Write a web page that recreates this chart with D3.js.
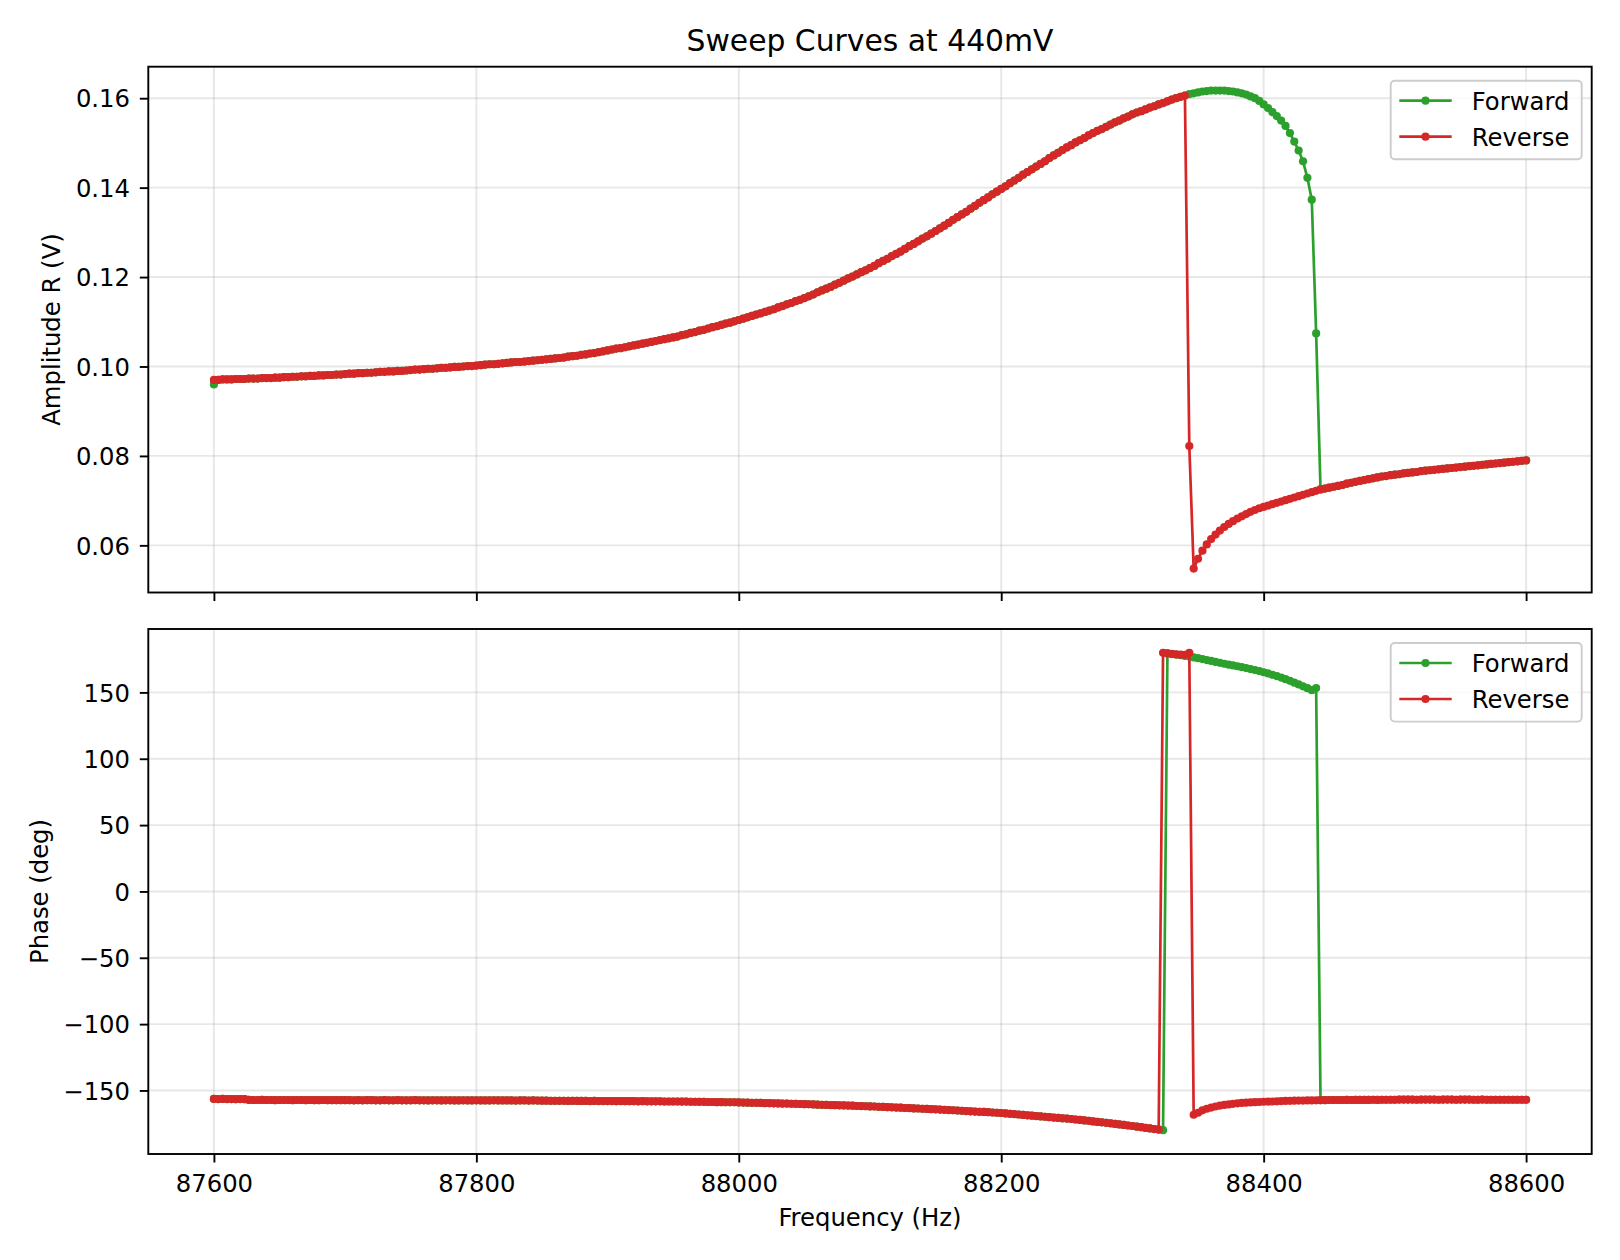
<!DOCTYPE html>
<html>
<head>
<meta charset="utf-8">
<script src="https://cdn.jsdelivr.net/npm/d3@7"></script>
<style>
  body { margin: 0; background: #fff; }
  svg { font-family: "DejaVu Sans", sans-serif; }
</style>
</head>
<body>
<script>
// sweep grid: 301 equally spaced frequencies, 87600 .. 88600 Hz
var freqStart = 87600, freqStop = 88600, freqCount = 301

var freqTicks = [87600, 87800, 88000, 88200, 88400, 88600]
var ampTicks = [0.06, 0.08, 0.10, 0.12, 0.14, 0.16]
var phaseTicks = [-150, -100, -50, 0, 50, 100, 150]

// amplitude, in units of 0.1 mV
// lower branch shared by both sweeps, points 1..222 (88340 Hz)
var ampLowBranch = [
  970, 971, 971, 971, 972, 972, 972, 973, 973, 973, 974, 974, 974, 975,
  975, 976, 976, 977, 977, 978, 978, 979, 979, 980, 980, 981, 981, 982, 982,
  983, 984, 984, 985, 985, 986, 986, 987, 988, 988, 989, 989, 990, 990, 991,
  992, 993, 993, 994, 995, 995, 996, 997, 997, 998, 999, 999, 1000, 1001, 1001,
  1002, 1003, 1004, 1005, 1005, 1006, 1007, 1008, 1009, 1010, 1010, 1011, 1012, 1013, 1014,
  1015, 1016, 1017, 1018, 1019, 1020, 1022, 1023, 1024, 1026, 1027, 1029, 1030, 1032, 1034,
  1036, 1038, 1040, 1041, 1043, 1045, 1047, 1049, 1051, 1053, 1055, 1057, 1059, 1061, 1063,
  1065, 1067, 1070, 1072, 1075, 1077, 1080, 1082, 1085, 1088, 1090, 1093, 1096, 1098, 1101,
  1104, 1107, 1110, 1113, 1116, 1119, 1122, 1125, 1128, 1132, 1135, 1139, 1142, 1146, 1149,
  1153, 1157, 1161, 1166, 1170, 1174, 1178, 1183, 1187, 1192, 1197, 1201, 1206, 1211, 1215,
  1220, 1225, 1231, 1236, 1241, 1247, 1252, 1257, 1263, 1269, 1274, 1280, 1286, 1291, 1297,
  1303, 1309, 1315, 1321, 1328, 1334, 1340, 1346, 1353, 1359, 1366, 1372, 1378, 1385, 1391,
  1397, 1403, 1410, 1416, 1422, 1429, 1435, 1441, 1447, 1453, 1459, 1466, 1472, 1478, 1484,
  1490, 1495, 1501, 1506, 1511, 1517, 1522, 1527, 1531, 1536, 1541, 1546, 1550, 1555, 1559,
  1564, 1568, 1571, 1575, 1579, 1582, 1586, 1589, 1593, 1597, 1600, 1603, 1606
]
// forward sweep stays on the upper branch up to 88440 Hz (points 223..252)
var ampForwardUpper = [
  1609, 1611, 1613, 1615, 1616, 1617, 1617, 1617, 1617, 1616,
  1615, 1613, 1611, 1608, 1604, 1600, 1594, 1586, 1578, 1569,
  1560, 1550, 1538, 1522, 1503, 1483, 1459, 1422, 1373, 1074
]
// reverse sweep drops at 88343 Hz (points 223..252)
var ampReverseDrop = [
  822, 548, 570, 588, 602, 614, 624, 633, 641, 648,
  654, 660, 665, 670, 675, 679, 683, 686, 689, 692,
  695, 698, 701, 704, 707, 710, 713, 716, 719, 722
]
// high frequency branch shared by both sweeps, points 253..300
var ampHighBranch = [
  725, 727, 729, 731, 733, 735, 738, 740, 742, 744, 746, 748, 750, 752, 754, 755,
  757, 758, 759, 761, 762, 763, 764, 766, 767, 768, 769, 770, 771, 772, 773, 774,
  775, 776, 777, 778, 779, 780, 781, 782, 783, 784, 785, 786, 787, 788, 789, 790
]

// phase in degrees
// points 0..216 (88320 Hz), shared
var phaseLowBranch = [
  -156.4, -156.5, -156.4, -156.5, -156.5, -156.6, -156.5, -156.6,
  -157.1, -157.2, -157.2, -157.1, -157.2, -157.2, -157.3, -157.2, -157.2, -157.2, -157.3,
  -157.2, -157.2, -157.3, -157.2, -157.3, -157.3, -157.2, -157.3, -157.3, -157.3, -157.3,
  -157.3, -157.3, -157.4, -157.3, -157.4, -157.3, -157.3, -157.4, -157.4, -157.3,
  -157.4, -157.4, -157.3, -157.4, -157.4, -157.4, -157.3, -157.4, -157.4, -157.5,
  -157.4, -157.4, -157.5, -157.4, -157.4, -157.5, -157.5, -157.4, -157.5, -157.5,
  -157.4, -157.5, -157.5, -157.5, -157.4, -157.5, -157.5, -157.5, -157.5, -157.6,
  -157.5, -157.5, -157.6, -157.5, -157.6,
  -157.7, -157.7, -157.8, -157.8, -157.8, -157.8, -157.9, -157.8, -157.9, -157.9, -157.9, -158.0, -157.9, -158.0, -158.0,
  -158.0, -158.0, -158.1, -158.0, -158.1, -158.1, -158.1, -158.2, -158.1, -158.2, -158.2, -158.2, -158.2, -158.3, -158.3,
  -158.3, -158.3, -158.4, -158.4, -158.5, -158.5, -158.6, -158.6, -158.7, -158.7, -158.8, -158.8, -158.9, -158.9, -158.9,
  -159.0, -159.1, -159.2, -159.3, -159.3, -159.4, -159.5, -159.6, -159.7, -159.8, -159.9, -159.9, -160.0, -160.1, -160.2,
  -160.3, -160.4, -160.5, -160.7, -160.8, -160.9, -161.0, -161.1, -161.2, -161.3, -161.4, -161.5, -161.7, -161.8, -161.9,
  -162.0, -162.1, -162.3, -162.4, -162.6, -162.7, -162.9, -163.0, -163.2, -163.3, -163.5, -163.6, -163.8, -163.9, -164.1,
  -164.2, -164.4, -164.6, -164.8, -164.9, -165.1, -165.3, -165.5, -165.7, -165.9, -166.1, -166.2, -166.4, -166.6, -166.8,
  -167.0, -167.3, -167.6, -167.8, -168.1, -168.4, -168.7, -169.0, -169.3, -169.6, -169.8, -170.1, -170.4, -170.7, -171.0,
  -171.2, -171.5, -171.9, -172.2, -172.6, -172.9, -173.3, -173.7, -174.0, -174.4, -174.8, -175.2, -175.6, -176.0, -176.4,
  -176.8, -177.3, -177.7, -178.2, -178.6, -179.1, -179.5
]
// forward: one more point at -180, then wrapped to +180 up to 88440 Hz (points 217..252)
var phaseForwardUpper = [
  -179.9,
  179.6, 179.0, 178.5, 178.0, 177.5, 177.0, 176.4, 175.8, 175.1, 174.4,
  173.7, 173.0, 172.3, 171.6, 170.9, 170.3, 169.7, 169.0, 168.3, 167.6,
  166.9, 166.1, 165.2, 164.3, 163.3, 162.3, 161.2, 160.0, 158.7, 157.3,
  156.0, 154.6, 153.2, 151.7, 153.3
]
// reverse: wrapped part 217..223, then the lower branch 224..252
var phaseReverseTop = [179.8, 179.3, 178.9, 178.6, 178.4, 178.3, 179.8]
var phaseReverseLower = [
  -168.3, -166.8, -165.0, -163.8, -162.9, -162.1, -161.4, -160.9, -160.5, -160.1,
  -159.7, -159.4, -159.2, -159.0, -158.8, -158.7, -158.5, -158.4, -158.3, -158.2,
  -158.0, -157.9, -157.8, -157.7, -157.6, -157.6, -157.5, -157.5, -157.4
]
// points 253..300, shared
var phaseHighBranch = [
  -157.3, -157.3, -157.2, -157.2, -157.2, -157.2, -157.1, -157.2, -157.1, -157.1,
  -157.1, -157.1, -157.0, -157.1, -157.0, -157.0, -157.0, -157.0, -156.9, -156.9,
  -156.9, -156.9, -157.0, -156.9, -156.9, -156.9, -156.9, -157.0, -156.9, -156.9,
  -156.9, -157.0, -156.9, -156.9, -156.9, -157.0, -157.0, -156.9, -157.0, -157.0,
  -157.0, -157.0, -157.0, -157.0, -157.0, -157.0, -157.0, -157.0
]

var ampForward = [960].concat(ampLowBranch, ampForwardUpper, ampHighBranch)
var ampReverse = [970].concat(ampLowBranch, ampReverseDrop, ampHighBranch)
var phaseForward = phaseLowBranch.concat(phaseForwardUpper, phaseHighBranch)
var phaseReverse = phaseLowBranch.concat(phaseReverseTop, phaseReverseLower, phaseHighBranch)

var freqs = d3.range(freqCount).map(i => freqStart + i * (freqStop - freqStart) / (freqCount - 1))

// ---- layout (px) ----
var width = 1620, height = 1260
var plotLeft = 148.3, plotRight = 1591.7
var fontSize = 24.3
var dotR = 4.1
var colors = {Forward: '#2ca02c', Reverse: '#d62728'}

// matplotlib style 5% margins
function padded(ext) {
  var r = ext[1] - ext[0]
  return [ext[0] - 0.05 * r, ext[1] + 0.05 * r]
}

var x = d3.scaleLinear()
  .domain(padded([freqStart, freqStop]))
  .range([plotLeft, plotRight])

var panels = [
  {
    top: 66.7, bottom: 592.5, label: 'Amplitude R (V)', ticks: ampTicks, fmt: d3.format('.2f'),
    series: [
      {name: 'Forward', values: ampForward.map(v => v / 10000)},
      {name: 'Reverse', values: ampReverse.map(v => v / 10000)}
    ]
  },
  {
    top: 629, bottom: 1154, label: 'Phase (deg)', ticks: phaseTicks, fmt: d3.format('d'), xLabels: true,
    series: [
      {name: 'Forward', values: phaseForward},
      {name: 'Reverse', values: phaseReverse}
    ]
  }
]

var svg = d3.select('body').append('svg').attr('width', width).attr('height', height)

svg.append('text')
  .attr('x', (plotLeft + plotRight) / 2).attr('y', 50.7)
  .attr('text-anchor', 'middle').attr('font-size', 29.8)
  .text('Sweep Curves at 440mV')

panels.forEach((p, pi) => {
  var allVals = p.series[0].values.concat(p.series[1].values)
  var y = d3.scaleLinear().domain(padded(d3.extent(allVals))).range([p.bottom, p.top])

  var g = svg.append('g')

  // grid
  g.selectAll('.gx').data(freqTicks).join('line')
    .attr('x1', d => x(d)).attr('x2', d => x(d))
    .attr('y1', p.top).attr('y2', p.bottom)
    .attr('stroke', '#b0b0b0').attr('stroke-opacity', 0.3).attr('stroke-width', 1.9)
  g.selectAll('.gy').data(p.ticks).join('line')
    .attr('x1', plotLeft).attr('x2', plotRight)
    .attr('y1', d => y(d)).attr('y2', d => y(d))
    .attr('stroke', '#b0b0b0').attr('stroke-opacity', 0.3).attr('stroke-width', 1.9)

  var clipId = 'clip' + pi
  svg.append('clipPath').attr('id', clipId).append('rect')
    .attr('x', plotLeft).attr('y', p.top)
    .attr('width', plotRight - plotLeft).attr('height', p.bottom - p.top)

  var line = d3.line()
    .x((d, i) => x(freqs[i]))
    .y(d => y(d))

  p.series.forEach(s => {
    var sg = g.append('g').attr('clip-path', `url(#${clipId})`)
    sg.append('path').attr('d', line(s.values))
      .attr('fill', 'none').attr('stroke', colors[s.name])
      .attr('stroke-width', 2.7).attr('stroke-linejoin', 'round')
    sg.selectAll('circle').data(s.values).join('circle')
      .attr('cx', (d, i) => x(freqs[i])).attr('cy', d => y(d))
      .attr('r', dotR).attr('fill', colors[s.name])
  })

  // axes
  var xAxis = d3.axisBottom(x).tickValues(freqTicks).tickSize(8.5).tickPadding(12.5)
    .tickFormat(p.xLabels ? d3.format('d') : '')
  var yAxis = d3.axisLeft(y).tickValues(p.ticks).tickSize(8.5).tickPadding(9.8).tickFormat(p.fmt)

  var xg = g.append('g').attr('transform', `translate(0,${p.bottom})`).call(xAxis)
  var yg = g.append('g').attr('transform', `translate(${plotLeft},0)`).call(yAxis)
  ;[xg, yg].forEach(a => {
    a.attr('font-size', fontSize).attr('font-family', '"DejaVu Sans", sans-serif')
    a.select('.domain').remove()
    a.selectAll('.tick line').attr('stroke', '#000').attr('stroke-width', 1.9)
    a.selectAll('.tick text').attr('fill', '#000')
  })
  yg.selectAll('.tick text').attr('dy', '0.36em')

  // frame
  g.append('rect')
    .attr('x', plotLeft).attr('y', p.top)
    .attr('width', plotRight - plotLeft).attr('height', p.bottom - p.top)
    .attr('fill', 'none').attr('stroke', '#000').attr('stroke-width', 1.9)

  // y label, placed left of the widest tick label
  var minLeft = d3.min(yg.selectAll('.tick text').nodes(), n => {
    var b = n.getBBox()
    return plotLeft + b.x
  })
  g.append('text')
    .attr('transform', `translate(${minLeft - 15.6},${(p.top + p.bottom) / 2}) rotate(-90)`)
    .attr('text-anchor', 'middle').attr('font-size', fontSize)
    .text(p.label)

  // legend
  var lx = 1390.7, ly = p.top + 14
  var leg = g.append('g').attr('transform', `translate(${lx},${ly})`)
  leg.append('rect')
    .attr('width', 191).attr('height', 78.6).attr('rx', 4)
    .attr('fill', '#fff').attr('fill-opacity', 0.8)
    .attr('stroke', '#cccccc').attr('stroke-width', 1.9)
  p.series.forEach((s, i) => {
    var ry = 20 + i * 36
    leg.append('line').attr('x1', 8.6).attr('x2', 61).attr('y1', ry).attr('y2', ry)
      .attr('stroke', colors[s.name]).attr('stroke-width', 2.7)
    leg.append('circle').attr('cx', 34.8).attr('cy', ry).attr('r', dotR).attr('fill', colors[s.name])
    leg.append('text').attr('x', 81).attr('y', ry + 8.86).attr('font-size', fontSize).text(s.name)
  })
})

svg.append('text')
  .attr('x', (plotLeft + plotRight) / 2).attr('y', 1226)
  .attr('text-anchor', 'middle').attr('font-size', fontSize)
  .text('Frequency (Hz)')
</script>
</body>
</html>
